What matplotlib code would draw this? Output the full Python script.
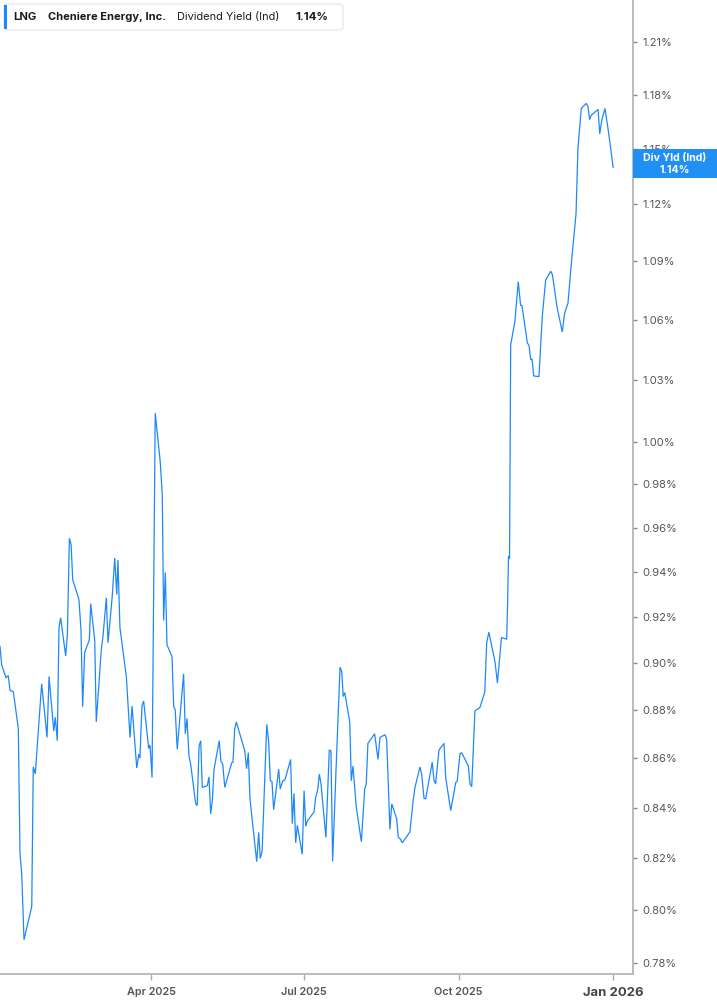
import matplotlib
matplotlib.use("Agg")
import matplotlib.pyplot as plt
import matplotlib.ticker as mticker
from matplotlib.patches import FancyBboxPatch, Rectangle
import pandas as pd
import numpy as np

plt.rcParams['font.family'] = ['Inter', 'DejaVu Sans']

# ---- data ----
start_date = "2025-01-01"
day_offsets = [
    0, 1.0, 3.6, 4.9, 6.0, 7.9, 10.9, 11.9, 12.9, 14.3, 18.9, 19.8, 21.0, 24.8, 28.0, 29.2,
    32.0, 32.9, 34.1, 35.1, 36.1, 39.1, 40.1, 41.3, 42.3, 43.3, 47.0, 48.2, 49.2, 50.4, 53.2,
    54.0, 56.4, 57.3, 60.3, 61.3, 63.3, 64.3, 66.7, 68.3, 69.5, 70.2, 71.4, 75.2, 77.4, 78.6,
    81.4, 82.6, 83.3, 84.5, 85.5, 88.5, 89.3, 90.5,
    92.4, 95.4, 96.6, 97.4, 98.4, 99.4, 102.4, 103.4, 104.3, 105.5, 109.3, 110.3, 111.3, 112.5,
    113.5, 116.5, 117.4, 118.5, 119.5, 120.4, 123.4, 124.4, 125.4, 126.4, 127.4, 130.5, 131.5,
    132.6, 133.8, 137.9, 138.7, 139.7, 140.7, 145.7, 146.8, 147.8, 148.8, 152.8, 154.0, 154.9,
    156.0, 158.8, 159.9, 160.9, 161.9, 162.9, 165.9,
    166.8, 168.3, 169.6, 173.0, 174.0, 175.0, 176.0, 177.0, 179.9, 181.0, 182.0, 182.9, 186.9,
    187.9, 189.1, 190.1, 191.1, 194.0, 196.0, 197.0, 198.0, 200.0, 202.4, 203.4, 204.3, 205.2,
    208.2, 209.1, 210.1, 212.1, 215.1, 217.1, 218.0, 219.0, 223.0, 225.0, 226.2, 229.2, 230.2,
    232.1, 233.2, 236.1, 237.1, 238.1, 239.5, 244.0, 246.0, 247.0, 250.0, 251.0, 252.4, 253.4,
    257.3, 258.3, 259.3, 261.3, 264.3, 265.3, 268.3, 271.3, 272.2, 273.8, 274.8, 278.8, 279.8,
    280.8, 282.7, 285.7,
    288.6, 289.7, 291.0, 294.7, 296.1, 298.5, 301.6, 302.1, 302.7, 303.3,
    304.0, 306.5, 308.5, 309.9, 310.7, 313.9, 314.9, 315.9, 316.7, 317.7, 320.8, 322.8, 324.8,
    327.8, 328.8, 331.7, 334.7, 336.1, 338.1, 339.9, 342.9, 344.0, 346.0, 349.0, 350.0, 351.0,
    352.0, 356.0, 357.0, 358.2, 360.1, 362.1, 365.0,
]
div_yield = [
    0.9071, 0.8991, 0.8936, 0.8946, 0.8882, 0.8878, 0.8723, 0.8220, 0.8142, 0.7887, 0.8013,
    0.8565, 0.8536, 0.8911, 0.8686, 0.8942, 0.8712, 0.8770, 0.8672, 0.9152, 0.9196, 0.9030,
    0.9122, 0.9551, 0.9524, 0.9364, 0.9276, 0.9143, 0.8814, 0.9045, 0.9100, 0.9258, 0.9097,
    0.8750, 0.9057, 0.9114, 0.9284, 0.9087, 0.9280, 0.9462, 0.9298, 0.9453, 0.9152, 0.8942,
    0.8685, 0.8817, 0.8560, 0.8617, 0.8600, 0.8817, 0.8838, 0.8640, 0.8655, 0.8521,
    1.0139, 0.9904, 0.9749, 0.9184, 0.9397, 0.9078, 0.9027, 0.8814, 0.8800, 0.8637, 0.8953,
    0.8701, 0.8765, 0.8609, 0.8575, 0.8415, 0.8408, 0.8651, 0.8672, 0.8481, 0.8488, 0.8524,
    0.8375, 0.8428, 0.8555, 0.8672, 0.8588, 0.8575, 0.8481, 0.8581, 0.8584, 0.8722, 0.8750,
    0.8630, 0.8557, 0.8623, 0.8435, 0.8186, 0.8301, 0.8199, 0.8225, 0.8740, 0.8672, 0.8508,
    0.8505, 0.8391, 0.8555,
    0.8475, 0.8508, 0.8511, 0.8595, 0.8336, 0.8457, 0.8260, 0.8329, 0.8215, 0.8468, 0.8325,
    0.8346, 0.8382, 0.8441, 0.8471, 0.8535, 0.8495, 0.8281, 0.8634, 0.8630, 0.8188, 0.8548,
    0.8982, 0.8963, 0.8857, 0.8874, 0.8750, 0.8508, 0.8568, 0.8401, 0.8264, 0.8475, 0.8495,
    0.8661, 0.8701, 0.8595, 0.8686, 0.8697, 0.8675, 0.8313, 0.8415, 0.8356, 0.8281, 0.8277,
    0.8260, 0.8303, 0.8432, 0.8481, 0.8564, 0.8535, 0.8437, 0.8435, 0.8584, 0.8511, 0.8495,
    0.8634, 0.8661, 0.8521, 0.8388, 0.8501, 0.8508, 0.8618, 0.8623, 0.8568, 0.8495, 0.8484,
    0.8796, 0.8811,
    0.8877, 0.9087, 0.9133, 0.9003, 0.8914, 0.9110, 0.9102, 0.9240, 0.9471, 0.9459,
    1.0475, 1.0592, 1.0795, 1.0673, 1.0673, 1.0484, 1.0472, 1.0400, 1.0404, 1.0320, 1.0317,
    1.0617, 1.0803, 1.0849, 1.0832, 1.0659, 1.0539, 1.0634, 1.0685, 1.0871, 1.1151, 1.1498,
    1.1725, 1.1753, 1.1734, 1.1662, 1.1687, 1.1719, 1.1583, 1.1658, 1.1725, 1.1602, 1.1400,
]
y_ticks = [0.78, 0.80, 0.82, 0.84, 0.86, 0.88, 0.90, 0.92, 0.94, 0.96, 0.98, 1.00,
           1.03, 1.06, 1.09, 1.12, 1.15, 1.18, 1.21]
x_tick_dates = ["2025-04-01", "2025-07-01", "2025-10-01", "2026-01-01"]
x_tick_labels = ["Apr 2025", "Jul 2025", "Oct 2025", "Jan 2026"]
ticker_sym = "LNG"
company = "Cheniere Energy, Inc."
metric = "Dividend Yield (Ind)"
last_value_label = "1.14%"
badge_label = "Div Yld (Ind)"

dates = pd.Timestamp(start_date) + pd.to_timedelta(day_offsets, unit="D")

W, H = 717, 1005
fig = plt.figure(figsize=(W / 100, H / 100), dpi=100)
ax = fig.add_axes([0, 31 / H, 633 / W, 1 - 31 / H])

LINE_C = "#1e88fa"
GRAY = "#555555"
ax.plot(dates, div_yield, color=LINE_C, lw=0.9, solid_joinstyle="miter")

ax.set_yscale("log")
ax.set_ylim(0.7759, 1.2347)
ax.set_xlim(pd.Timestamp("2025-01-01"), pd.Timestamp("2025-01-01") + pd.Timedelta(days=376.8))
ax.yaxis.set_major_locator(mticker.FixedLocator(y_ticks))
ax.yaxis.set_minor_locator(mticker.NullLocator())
ax.yaxis.set_major_formatter(mticker.FuncFormatter(lambda v, p: f"{v:.2f}%"))
ax.yaxis.tick_right()
ax.tick_params(axis="y", which="major", direction="out", length=3, width=1,
               color="#888888", labelcolor=GRAY, labelsize=8.0, pad=4)

xt = pd.to_datetime(x_tick_dates)
ax.set_xticks(xt)
ax.set_xticklabels(x_tick_labels)
ax.tick_params(axis="x", direction="out", length=4, width=1, color="#aaaaaa",
               labelcolor=GRAY, labelsize=7.8, pad=5)
for lbl in ax.get_xticklabels():
    lbl.set_fontweight("semibold")
    if lbl.get_text() == "Jan 2026":
        lbl.set_fontweight("bold")
        lbl.set_fontsize(9.4)
        lbl.set_color("#444444")

for s in ["top", "left"]:
    ax.spines[s].set_visible(False)
for s in ["right", "bottom"]:
    ax.spines[s].set_color("#b5b5b5")
    ax.spines[s].set_linewidth(1.3)

# overlay in pixel coordinates for header and badge
ov = fig.add_axes([0, 0, 1, 1], zorder=10)
ov.set_xlim(0, W)
ov.set_ylim(H, 0)
ov.axis("off")
ov.patch.set_alpha(0)

hdr = FancyBboxPatch((4, 4), 339, 26, boxstyle="round,pad=0,rounding_size=3",
                     facecolor="white", edgecolor="#e3e3e3", lw=0.8)
ov.add_patch(hdr)
ov.add_patch(Rectangle((4, 5), 2.6, 24, facecolor=LINE_C, edgecolor="none"))
ty = 16.5
ov.text(13, ty, ticker_sym, fontsize=8.1, fontweight="bold", color="#1a1a1a", va="center", ha="left")
ov.text(48, ty, company, fontsize=8.0, fontweight="bold", color="#1a1a1a", va="center", ha="left")
ov.text(177, ty, metric, fontsize=7.9, color="#1a1a1a", va="center", ha="left")
ov.text(295, ty, last_value_label, fontsize=8.2, fontweight="bold", color="#1a1a1a", va="center", ha="left")

ov.add_patch(Rectangle((633, 149), 84, 29, facecolor="#2190f5", edgecolor="none"))
ov.text(675, 158, badge_label, fontsize=7.6, fontweight="bold", color="white", va="center", ha="center")
ov.text(675, 170, last_value_label, fontsize=7.6, fontweight="bold", color="white", va="center", ha="center")

fig.savefig("out.png", dpi=100)
